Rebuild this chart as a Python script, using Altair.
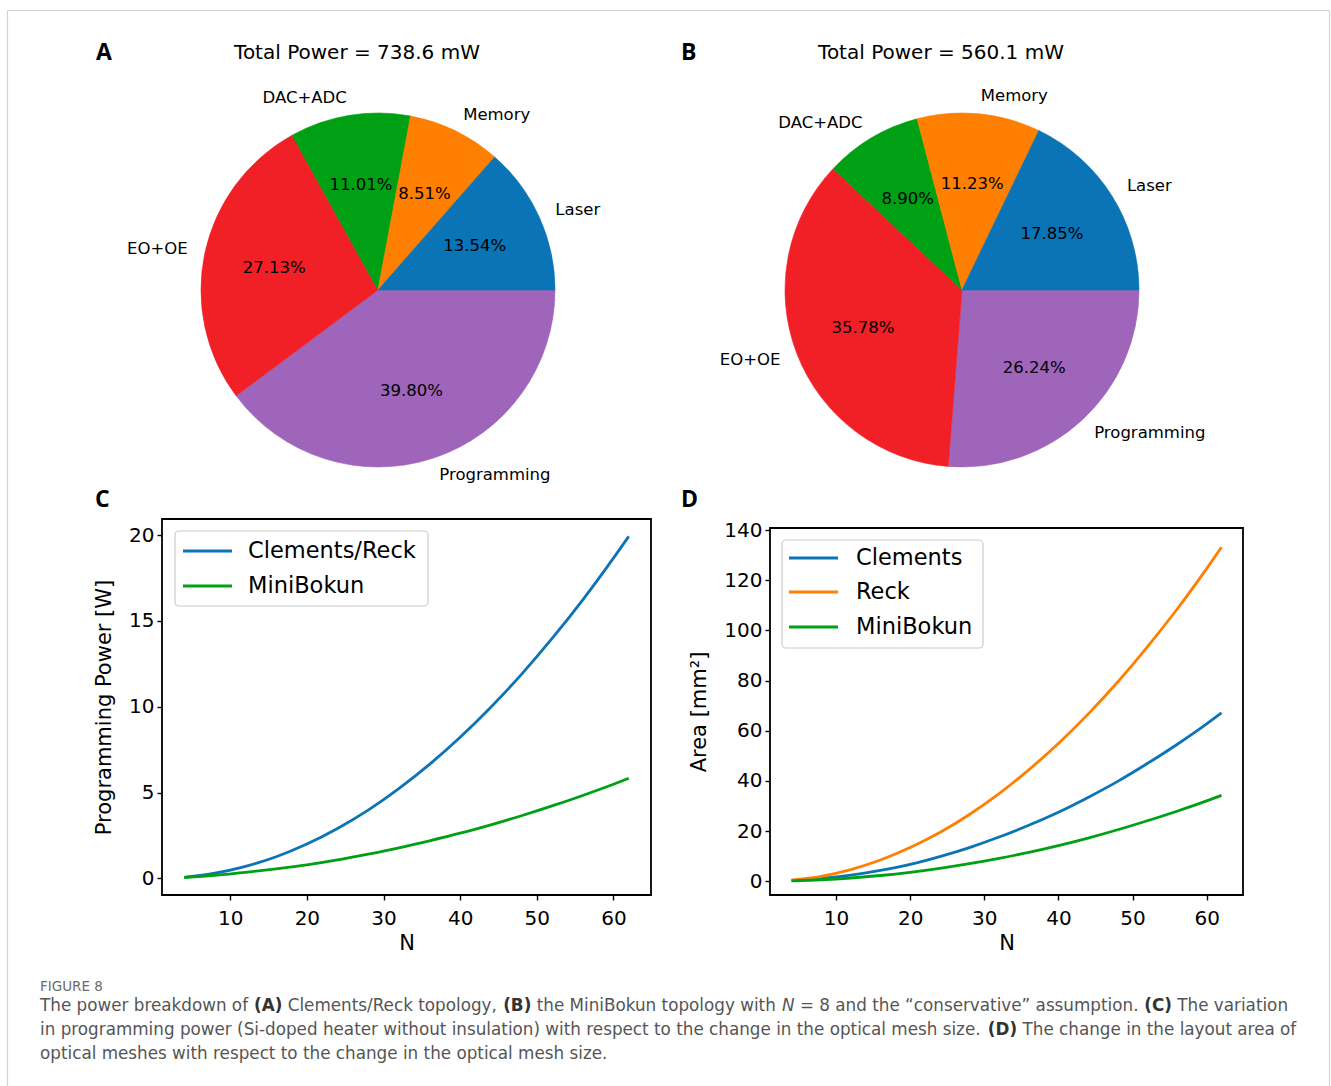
import math

import altair as alt
import pandas as pd

FONT = "DejaVu Sans"
LETTER_FONT = "Open Sans"
CAPTION_FONT = "DejaVu Sans"

# ---------------------------------------------------------------- pie data
slices = ["Laser", "Memory", "DAC+ADC", "EO+OE", "Programming"]
slice_colors = ["#0a74b6", "#ff7f00", "#00a014", "#f11f26", "#9e65ba"]
share_a = [13.54, 8.51, 11.01, 27.13, 39.80]
share_b = [17.85, 11.23, 8.90, 35.78, 26.24]
total_a_mw = 738.6
total_b_mw = 560.1

# ---------------------------------------------------------------- line data
n_values = [4, 8, 12, 16, 20, 24, 28, 32, 36, 40, 44, 48, 52, 56, 60, 62]
prog_clements_reck = [0.06, 0.30, 0.70, 1.26, 2.00, 2.91, 3.98, 5.23, 6.64, 8.22,
                      9.97, 11.89, 13.98, 16.23, 18.66, 19.93]
prog_minibokun = [0.05, 0.18, 0.35, 0.55, 0.78, 1.07, 1.41, 1.78, 2.19, 2.63,
                  3.12, 3.65, 4.22, 4.83, 5.48, 5.83]
area_clements = [0.3, 1.1, 2.4, 4.3, 6.7, 9.8, 13.4, 17.6, 22.3, 27.5,
                 33.4, 39.8, 46.9, 54.5, 62.7, 67.1]
area_reck = [0.42, 1.97, 4.65, 8.45, 13.4, 19.4, 26.6, 34.9, 44.4, 54.9,
             66.6, 79.4, 93.4, 108.4, 124.6, 133.1]
area_minibokun = [0.15, 0.57, 1.28, 2.28, 3.56, 5.13, 6.98, 9.11, 11.5, 14.2,
                  17.2, 20.5, 24.1, 27.9, 32.0, 34.2]

prog_series = ["Clements/Reck", "MiniBokun"]
prog_colors = ["#0a74b6", "#00a014"]
area_series = ["Clements", "Reck", "MiniBokun"]
area_colors = ["#0a74b6", "#ff7f00", "#00a014"]

x_ticks = [10, 20, 30, 40, 50, 60]
prog_ticks = [0, 5, 10, 15, 20]
area_ticks = [0, 20, 40, 60, 80, 100, 120, 140]

# ---------------------------------------------------------------- caption
caption_head = "FIGURE 8"
caption_lines = [
    [("The power breakdown of ", "normal"), ("(A)", "bold"),
     (" Clements/Reck topology, ", "normal"), ("(B)", "bold"),
     (" the MiniBokun topology with ", "normal"), ("N", "italic"),
     (" = 8 and the \u201cconservative\u201d assumption. ", "normal"),
     ("(C)", "bold"), (" The variation", "normal")],
    [("in programming power (Si-doped heater without insulation) with respect to "
      "the change in the optical mesh size. ", "normal"),
     ("(D)", "bold"), (" The change in the layout area of", "normal")],
    [("optical meshes with respect to the change in the optical mesh size.", "normal")],
]

# Approximate DejaVu Sans advance widths (in em) used to flow the caption runs.
GLYPH_W = {
    " ": .318, "(": .390, ")": .390, ",": .318, ".": .318, "/": .337, "-": .361,
    "=": .838, "\u201c": .518, "\u201d": .518, "8": .636,
    "A": .684, "B": .686, "C": .698, "D": .770, "E": .632, "F": .575, "G": .775,
    "I": .295, "M": .863, "N": .748, "R": .695, "S": .635, "T": .611, "U": .732,
    "a": .613, "b": .635, "c": .550, "d": .635, "e": .615, "f": .352, "g": .635,
    "h": .634, "i": .278, "j": .278, "k": .579, "l": .278, "m": .974, "n": .634,
    "o": .612, "p": .635, "q": .635, "r": .411, "s": .521, "t": .392, "u": .634,
    "v": .592, "w": .818, "x": .592, "y": .592, "z": .525,
}
GLYPH_W_BOLD = {"(": .457, ")": .457, "A": .774, "B": .762, "C": .734, "D": .830}


def run_width(txt, style, size):
    table = GLYPH_W_BOLD if style == "bold" else {}
    return sum(table.get(ch, GLYPH_W.get(ch, .6)) for ch in txt) * size

# ---------------------------------------------------------------- layout
PIE_R = 177
ROW0_TOP = 30          # top of the pie row
ROW1_TOP = 519         # top of the line-chart row
COL0_LEFT = 162
COL1_LEFT = 770
C_W, D_W = 489, 473
ROW1_H = 376
PIE_H = 469
CAP_SIZE = 16.8

one = pd.DataFrame({"k": [0]})


def text_at(txt, x, y, **mark):
    return alt.Chart(one).mark_text(text=txt, **mark).encode(x=alt.value(x), y=alt.value(y))


def pie_table(shares):
    total = sum(shares)
    rows, acc = [], 0.0
    # Slices run clockwise from 3 o'clock, last category first, so the
    # first category ends up just above the horizontal (counter-clockwise layout).
    for i in reversed(range(len(slices))):
        v = shares[i]
        start, end = acc, acc + v
        acc = end
        mid = (start + end) / 2
        ang = math.pi / 2 + 2 * math.pi * mid / total
        rows.append({
            "name": slices[i], "value": v, "start": start, "end": end, "mid": mid,
            "pct": f"{v:.2f}%", "side": "right" if math.sin(ang) > 0 else "left",
        })
    return pd.DataFrame(rows), total


def pie_panel(shares, total_mw, letter, width, cx, cy, title_x, letter_x, extra=()):
    df, total = pie_table(shares)
    theta_scale = alt.Scale(domain=[0, total],
                            range=[math.pi / 2, math.pi / 2 + 2 * math.pi])
    slice_scale = alt.Scale(domain=slices, range=slice_colors)
    base = alt.Chart(df).encode(x=alt.value(cx), y=alt.value(cy))
    arcs = base.mark_arc(outerRadius=PIE_R, strokeWidth=0.6).encode(
        theta=alt.Theta("start:Q", scale=theta_scale),
        theta2=alt.Theta2("end:Q"),
        color=alt.Color("name:N", scale=slice_scale, legend=None),
        stroke=alt.Stroke("name:N", scale=slice_scale, legend=None),
    )
    mid = alt.Theta("mid:Q", scale=theta_scale, stack=None)
    lbl_style = dict(font=FONT, fontSize=16.5, color="black", baseline="middle")
    right_lbl = base.mark_text(radius=1.1 * PIE_R, align="left", **lbl_style).encode(
        theta=mid, text="name:N").transform_filter(alt.datum.side == "right")
    left_lbl = base.mark_text(radius=1.1 * PIE_R, align="right", **lbl_style).encode(
        theta=mid, text="name:N").transform_filter(alt.datum.side == "left")
    pct = base.mark_text(radius=0.6 * PIE_R, align="center", **lbl_style).encode(
        theta=mid, text="pct:N")
    title = text_at(f"Total Power = {total_mw} mW", title_x, 23, font=FONT,
                    fontSize=20, align="center", baseline="middle", color="black")
    tag = text_at(letter, letter_x, 23, font=LETTER_FONT, fontSize=23,
                  fontWeight="bold", align="left", baseline="middle", color="black")
    return alt.layer(*extra, arcs, left_lbl, right_lbl, pct, title, tag).properties(
        width=width, height=PIE_H)


def axis(values, title, label_pad, title_pad):
    return alt.Axis(values=values, title=title, domain=False, grid=False,
                    tickColor="black", tickWidth=1.4, tickSize=5,
                    labelFont=FONT, labelFontSize=20, labelColor="black",
                    labelPadding=label_pad, labelFlush=False,
                    titleFont=FONT, titleFontSize=21, titleFontWeight="normal",
                    titleColor="black", titlePadding=title_pad)


def legend_layers(names, colors, box, rows, x_line, x_text):
    bx0, by0, bx1, by1 = box
    layers = [alt.Chart(one).mark_rect(fill="white", fillOpacity=0.8, stroke="#cccccc",
                                       strokeWidth=1.2, cornerRadius=4).encode(
        x=alt.value(bx0), x2=alt.value(bx1), y=alt.value(by0), y2=alt.value(by1))]
    for name, col, ry in zip(names, colors, rows):
        layers.append(alt.Chart(one).mark_rule(color=col, strokeWidth=2.8).encode(
            x=alt.value(x_line[0]), x2=alt.value(x_line[1]), y=alt.value(ry)))
        layers.append(text_at(name, x_text, ry, font=FONT, fontSize=22.5, color="black",
                              align="left", baseline="middle"))
    return layers


def line_panel(xs, series_vals, names, colors, ydom, yrange, yticks, ytitle,
               width, frame_top, legend, letter_x, extra=()):
    rows = []
    for name, vals in zip(names, series_vals):
        rows += [{"N": n, "value": v, "series": name} for n, v in zip(xs, vals)]
    df = pd.DataFrame(rows)
    yscale = alt.Scale(domain=ydom, nice=False, zero=False)
    if yrange is not None:
        yscale = alt.Scale(domain=ydom, nice=False, zero=False, range=yrange)
    lines = alt.Chart(df).mark_line(strokeWidth=2.8, interpolate="monotone").encode(
        x=alt.X("N:Q", scale=alt.Scale(domain=[1.1, 64.9], nice=False, zero=False),
                axis=axis(x_ticks, "N", 8, 4)),
        y=alt.Y("value:Q", scale=yscale, axis=axis(yticks, ytitle, 3, 14)),
        color=alt.Color("series:N", scale=alt.Scale(domain=names, range=colors),
                        legend=None),
        detail="series:N",
    )
    frame = alt.Chart(one).mark_rect(fillOpacity=0, stroke="black", strokeWidth=1.8).encode(
        x=alt.value(0), x2=alt.value(width), y=alt.value(frame_top), y2=alt.value(ROW1_H))
    tag = text_at(letter_x[0], letter_x[1], -19, font=LETTER_FONT, fontSize=23,
                  fontWeight="bold", align="left", baseline="middle", color="black")
    return alt.layer(lines, frame, *legend, tag, *extra).properties(width=width, height=ROW1_H)


# ---------------------------------------------------------------- page frame
canvas_w, canvas_h = 1331, 1086
ox, oy = COL0_LEFT, ROW0_TOP
page = [
    alt.Chart(one).mark_rect(fill="white", fillOpacity=0).encode(
        x=alt.value(-ox), x2=alt.value(canvas_w - ox),
        y=alt.value(-oy), y2=alt.value(canvas_h - oy)),
    alt.Chart(one).mark_rule(color="#d2d2d2", strokeWidth=1.2).encode(
        x=alt.value(7.5 - ox), y=alt.value(10.5 - oy), y2=alt.value(canvas_h - oy)),
    alt.Chart(one).mark_rule(color="#d2d2d2", strokeWidth=1.2).encode(
        x=alt.value(1329.5 - ox), y=alt.value(10.5 - oy), y2=alt.value(canvas_h - oy)),
    alt.Chart(one).mark_rule(color="#d2d2d2", strokeWidth=1.2).encode(
        x=alt.value(7.5 - ox), x2=alt.value(1329.5 - ox), y=alt.value(10.5 - oy)),
]

pie_a = pie_panel(share_a, total_a_mw, "A", C_W, 378 - COL0_LEFT, 290 - ROW0_TOP,
                  357 - COL0_LEFT, 96 - COL0_LEFT, extra=page)
pie_b = pie_panel(share_b, total_b_mw, "B", D_W, 962 - COL1_LEFT, 290 - ROW0_TOP,
                  941 - COL1_LEFT, 681 - COL1_LEFT)

# caption text, anchored to the lower-left panel; runs are flowed left to right.
# SVG drops leading/trailing blanks, so spaces only advance the pen.
cap = [text_at(caption_head, 40 - COL0_LEFT, 987 - ROW1_TOP, font=CAPTION_FONT,
               fontSize=13.5, color="#6b6b6b", align="left", baseline="middle")]
for li, segs in enumerate(caption_lines):
    y = 1006 + 24 * li - ROW1_TOP
    x = 40.0
    for txt, style in segs:
        kw = dict(font=CAPTION_FONT, fontSize=CAP_SIZE, color="#555555", align="left",
                  baseline="middle")
        if style == "bold":
            kw["fontWeight"] = "bold"
            kw["color"] = "#333333"
        if style == "italic":
            kw["fontStyle"] = "italic"
        lead = txt[: len(txt) - len(txt.lstrip(" "))]
        body = txt.strip(" ")
        x0 = x + run_width(lead, style, CAP_SIZE)
        cap.append(text_at(body, x0 - COL0_LEFT, y, **kw))
        x += run_width(txt, style, CAP_SIZE)

legend_c = legend_layers(prog_series, prog_colors, (13, 12, 266, 87), [32, 67], (21, 70), 86)
panel_c = line_panel(n_values, [prog_clements_reck, prog_minibokun], prog_series, prog_colors,
                     [-0.97, 20.94], None, prog_ticks, "Programming Power [W]", C_W, 0,
                     legend_c, ("C", 95 - COL0_LEFT), extra=cap)

legend_d = legend_layers(area_series, area_colors, (12, 21, 213, 129), [39, 73, 108], (19, 68), 86)
panel_d = line_panel(n_values, [area_clements, area_reck, area_minibokun], area_series,
                     area_colors, [-5.5, 140.8], [ROW1_H, 9], area_ticks, "Area [mm\u00b2]",
                     D_W, 9, legend_d, ("D", 681 - COL1_LEFT))

chart = alt.concat(
    pie_a, pie_b, panel_c, panel_d,
    columns=2,
    spacing={"row": ROW1_TOP - ROW0_TOP - PIE_H, "column": COL1_LEFT - COL0_LEFT - C_W},
    bounds="flush",
).resolve_scale(
    color="independent", stroke="independent", theta="independent",
).properties(padding=0, background="white").configure_view(stroke=None)

chart.save("out.html", embed_options={"renderer": "svg", "actions": False})
